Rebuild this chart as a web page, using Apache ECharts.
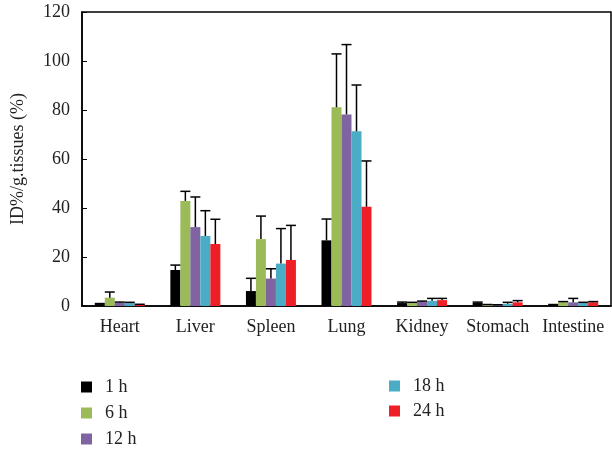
<!DOCTYPE html>
<html>
<head>
<meta charset="utf-8">
<script src="https://cdn.jsdelivr.net/npm/echarts@6/dist/echarts.min.js"></script>
<style>
html,body{margin:0;padding:0;background:#fff;}
#main{width:612px;height:450px;}
</style>
</head>
<body>
<div id="main"></div>
<script>
// organs on the x axis
var organs = ['Heart', 'Liver', 'Spleen', 'Lung', 'Kidney', 'Stomach', 'Intestine'];
var timeNames = ['1 h', '6 h', '12 h', '18 h', '24 h'];
var yTicks = [0, 20, 40, 60, 80, 100, 120];

// mean values per time point
var mean1h  = [0.8, 14.7, 6.1, 26.8, 1.2, 1.3, 0.5];
var mean6h  = [3.4, 42.9, 27.3, 81.1, 1.2, 0.5, 1.5];
var mean12h = [1.3, 32.2, 11.2, 78.2, 1.7, 0.4, 1.5];
var mean18h = [1.2, 28.6, 17.3, 71.3, 2.1, 0.9, 1.2];
var mean24h = [0.6, 25.3, 18.8, 40.5, 2.4, 1.5, 1.5];

// upper error (sd)
var sd1h  = [0.2, 2.0, 5.2, 8.7, 0.4, 0.3, 0.1];
var sd6h  = [2.3, 3.9, 9.4, 21.8, 0.3, 0.1, 0.3];
var sd12h = [0.3, 12.3, 4.0, 28.5, 0.3, 0.1, 1.6];
var sd18h = [0.3, 10.3, 14.3, 18.9, 1.0, 0.6, 0.3];
var sd24h = [0.1, 10.1, 14.1, 18.7, 0.7, 0.7, 0.3];

var colors = ['#000000', '#9BBB59', '#8064A2', '#4BACC6', '#EE1F26'];

var allMean = [mean1h, mean6h, mean12h, mean18h, mean24h];
var allSd = [sd1h, sd6h, sd12h, sd18h, sd24h];

var fontFam = '"Liberation Serif", "DejaVu Serif", serif';
var barW = 10;

var myChart = echarts.init(document.getElementById('main'));

var series = [];
// bars
for (var i = 0; i < timeNames.length; i++) {
	series.push({
		name: timeNames[i],
		type: 'bar',
		barWidth: barW,
		barGap: '0%',
		itemStyle: {color: colors[i]},
		data: allMean[i]
	});
}
// error bars, one custom series per time point
for (var k = 0; k < timeNames.length; k++) {
	(function(idx){
		var errData = [];
		for (var j = 0; j < organs.length; j++) {
			errData.push([j, allMean[idx][j], allMean[idx][j] + allSd[idx][j]]);
		}
		series.push({
			type: 'custom',
			z: 5,
			silent: true,
			renderItem: function(params, api){
				var off = (idx - 2) * barW;
				var p0 = api.coord([api.value(0), api.value(1)]);
				var p1 = api.coord([api.value(0), api.value(2)]);
				var x = p0[0] + off;
				var st = {stroke: '#000', lineWidth: 1.5};
				return {
					type: 'group',
					children: [
						{type: 'line', shape: {x1: x, y1: p0[1], x2: x, y2: p1[1]}, style: st},
						{type: 'line', shape: {x1: x - 5, y1: p1[1], x2: x + 5, y2: p1[1]}, style: st}
					]
				};
			},
			encode: {x: 0, y: [1, 2]},
			data: errData
		});
	})(k);
}

var legendText = {fontFamily: fontFam, fontSize: 18, color: '#222', padding: [0, 0, 0, 8]};

option = {
	animation: false,
	textStyle: {fontFamily: fontFam},
	grid: {
		left: 82,
		right: 1,
		top: 12,
		bottom: 144,
		show: true,
		borderColor: '#000',
		borderWidth: 1.5
	},
	legend: [{
		data: timeNames.slice(0, 3),
		orient: 'vertical',
		left: 81,
		top: 378,
		padding: 0,
		height: 80,
		itemWidth: 11,
		itemHeight: 11,
		itemGap: 8,
		icon: 'rect',
		textStyle: legendText
	}, {
		data: timeNames.slice(3),
		orient: 'vertical',
		left: 389,
		top: 377,
		padding: 0,
		height: 60,
		itemWidth: 11,
		itemHeight: 11,
		itemGap: 7,
		icon: 'rect',
		textStyle: legendText
	}],
	xAxis: {
		type: 'category',
		data: organs,
		axisLine: {lineStyle: {color: '#000', width: 1.5}},
		axisTick: {show: false},
		axisLabel: {interval: 0, fontFamily: fontFam, fontSize: 18, color: '#222', margin: 12}
	},
	yAxis: {
		type: 'value',
		min: yTicks[0],
		max: yTicks[yTicks.length - 1],
		interval: 20,
		name: 'ID%/g.tissues (%)',
		nameLocation: 'middle',
		nameGap: 55,
		nameTextStyle: {fontFamily: fontFam, fontSize: 18, color: '#222'},
		axisLine: {show: true, lineStyle: {color: '#000', width: 1.5}},
		axisTick: {show: true, inside: true, length: 5, lineStyle: {color: '#000'}},
		splitLine: {show: false},
		axisLabel: {fontFamily: fontFam, fontSize: 18, color: '#222', margin: 12}
	},
	series: series
};

myChart.setOption(option);
</script>
</body>
</html>
